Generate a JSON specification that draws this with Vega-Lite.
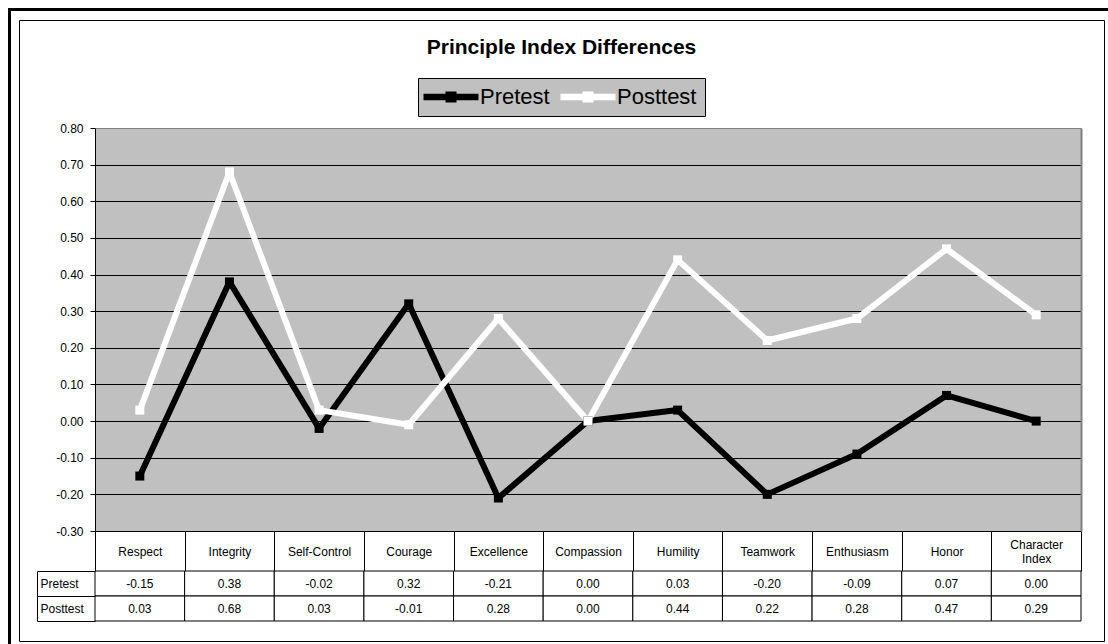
{
  "$schema": "https://vega.github.io/schema/vega-lite/v6.json",
  "width": 1085,
  "height": 621,
  "autosize": {"type": "none"},
  "padding": {"left": 19, "top": 20, "right": 4, "bottom": 3},
  "background": "white",
  "title": {"text": "Principle Index Differences", "font": "Liberation Sans", "fontSize": 21, "fontWeight": "bold", "color": "black", "anchor": "middle", "offset": -52},
  "config": {
    "font": "Liberation Sans",
    "view": {"stroke": "black", "strokeWidth": 1},
    "axis": {"labelFont": "Liberation Sans"},
    "locale": {"number": {"decimal": ".", "thousands": ",", "grouping": [3], "currency": ["$", ""], "minus": "-"}}
  },
  "data": {"values": [
    {"category": "Respect", "series": "Pretest", "value": -0.15},
    {"category": "Integrity", "series": "Pretest", "value": 0.38},
    {"category": "Self-Control", "series": "Pretest", "value": -0.02},
    {"category": "Courage", "series": "Pretest", "value": 0.32},
    {"category": "Excellence", "series": "Pretest", "value": -0.21},
    {"category": "Compassion", "series": "Pretest", "value": 0.00},
    {"category": "Humility", "series": "Pretest", "value": 0.03},
    {"category": "Teamwork", "series": "Pretest", "value": -0.20},
    {"category": "Enthusiasm", "series": "Pretest", "value": -0.09},
    {"category": "Honor", "series": "Pretest", "value": 0.07},
    {"category": "Character Index", "series": "Pretest", "value": 0.00},
    {"category": "Respect", "series": "Posttest", "value": 0.03},
    {"category": "Integrity", "series": "Posttest", "value": 0.68},
    {"category": "Self-Control", "series": "Posttest", "value": 0.03},
    {"category": "Courage", "series": "Posttest", "value": -0.01},
    {"category": "Excellence", "series": "Posttest", "value": 0.28},
    {"category": "Compassion", "series": "Posttest", "value": 0.00},
    {"category": "Humility", "series": "Posttest", "value": 0.44},
    {"category": "Teamwork", "series": "Posttest", "value": 0.22},
    {"category": "Enthusiasm", "series": "Posttest", "value": 0.28},
    {"category": "Honor", "series": "Posttest", "value": 0.47},
    {"category": "Character Index", "series": "Posttest", "value": 0.29}
  ]},
  "resolve": {"scale": {"x": "independent", "y": "independent"}, "axis": {"x": "independent", "y": "independent"}},
  "layer": [
    {
      "resolve": {"scale": {"y": "independent"}, "axis": {"y": "independent"}},
      "layer": [
        {
          "mark": {"type": "point", "opacity": 0},
          "encoding": {
            "x": {"field": "category", "type": "nominal", "scale": {"type": "band", "domain": ["Respect", "Integrity", "Self-Control", "Courage", "Excellence", "Compassion", "Humility", "Teamwork", "Enthusiasm", "Honor", "Character Index"], "range": [76, 1062], "paddingInner": 0, "paddingOuter": 0}},
            "y": {"field": "value", "type": "quantitative",
              "scale": {"domain": [-0.3, 0.8], "range": [511, 108], "nice": false, "zero": false},
              "axis": {"orient": "left", "offset": -76, "domain": false, "ticks": false, "labels": false, "grid": true, "values": [0.25], "gridColor": "#C0C0C0", "gridWidth": 403, "gridCap": "butt", "gridOpacity": 1, "title": null}}
          }
        },
        {
          "mark": {"type": "point", "opacity": 0},
          "encoding": {
            "x": {"field": "category", "type": "nominal", "scale": {"type": "band"}},
            "y": {"field": "value", "type": "quantitative",
              "scale": {"domain": [-0.3, 0.8], "range": [511, 108], "nice": false, "zero": false},
              "axis": {"orient": "right", "offset": -23, "domain": true, "domainColor": "#808080", "domainWidth": 2, "ticks": false, "labels": false, "grid": false, "title": null}}
          }
        },
        {
          "layer": [
            {
              "mark": {"type": "line", "strokeWidth": 6, "strokeJoin": "round"},
              "encoding": {
                "x": {"field": "category", "type": "nominal", "bandPosition": 0.5, "scale": {"type": "band"},
                  "axis": {"orient": "bottom", "offset": -110, "domainColor": "black", "domainWidth": 1, "ticks": true, "tickBand": "extent", "tickSize": 40, "tickColor": "black", "tickWidth": 1, "labels": true,
                    "labelPadding": {"condition": {"test": "datum.label == 'Character Index'", "value": -27}, "value": -20},
                    "labelBaseline": "middle", "labelAlign": "center", "labelAngle": 0, "labelFontSize": 12, "labelColor": "black", "labelLineHeight": 14, "labelOverlap": false, "labelExpr": "datum.label == 'Character Index' ? ['Character', 'Index'] : datum.label", "grid": false, "title": null}},
                "y": {"field": "value", "type": "quantitative",
                  "scale": {"domain": [-0.3, 0.8], "range": [511, 108], "nice": false, "zero": false},
                  "axis": {"orient": "left", "offset": -76, "values": [-0.3, -0.2, -0.1, 0, 0.1, 0.2, 0.3, 0.4, 0.5, 0.6, 0.7, 0.8], "format": ".2f", "domainColor": "black", "tickColor": "black", "tickSize": 5, "labelFontSize": 12, "labelColor": "black", "labelPadding": 7, "labelOverlap": false, "grid": true, "gridColor": {"condition": {"test": "datum.value > 0.75", "value": "#808080"}, "value": "#000000"}, "gridWidth": 1, "gridOpacity": 1, "title": null}},
                "color": {"field": "series", "type": "nominal",
                  "scale": {"domain": ["Pretest", "Posttest"], "range": ["#000000", "#FFFFFF"]},
                  "legend": {"orient": "none", "legendX": 399, "legendY": 58, "direction": "horizontal", "title": null, "fillColor": "#C0C0C0", "strokeColor": "#000000", "padding": 8, "labelFontSize": 22, "labelColor": "black", "labelFont": "Liberation Sans", "symbolType": "M-5,-0.6L5,-0.6L5,0.6L-5,0.6Z M-1,-1L1,-1L1,1L-1,1Z", "symbolSize": 121, "symbolOffset": 14, "labelOffset": 18, "columnPadding": 10, "symbolStrokeWidth": 0,
                    "encode": {"symbols": {"update": {"fill": {"scale": "color", "field": "value"}, "stroke": {"value": "transparent"}}}}}},
                "order": {"value": null}
              }
            },
            {
              "mark": {"type": "point", "shape": "square", "filled": true, "size": 81, "opacity": 1},
              "encoding": {
                "x": {"field": "category", "type": "nominal", "bandPosition": 0.5, "scale": {"type": "band"}},
                "y": {"field": "value", "type": "quantitative"},
                "color": {"field": "series", "type": "nominal"}
              }
            }
          ]
        },
        {
          "mark": {"type": "rect", "fill": "white", "stroke": "black", "strokeWidth": 1},
          "encoding": {
            "x": {"field": "category", "type": "nominal", "scale": {"type": "band"}},
            "y": {"field": "series", "type": "nominal",
              "scale": {"type": "band", "domain": ["Pretest", "Posttest"], "range": [551, 601], "paddingInner": 0, "paddingOuter": 0},
              "axis": {"orient": "left", "offset": -76, "domain": false, "ticks": true, "tickBand": "extent", "tickSize": 58, "tickColor": "black", "tickWidth": 1, "labels": true, "labelAlign": "left", "labelBaseline": "middle", "labelPadding": -3, "labelFontSize": 12, "labelColor": "black", "grid": false, "title": null}}
          }
        },
        {
          "mark": {"type": "text", "fontSize": 12, "color": "black", "align": "center", "baseline": "middle"},
          "encoding": {
            "x": {"field": "category", "type": "nominal", "bandPosition": 0.5, "scale": {"type": "band"}},
            "y": {"field": "series", "type": "nominal", "bandPosition": 0.5,
              "scale": {"type": "band", "domain": ["Pretest", "Posttest"], "range": [551, 601], "paddingInner": 0, "paddingOuter": 0},
              "axis": {"orient": "left", "offset": -18, "domainColor": "black", "domainWidth": 1, "ticks": false, "labels": false, "grid": false, "title": null}},
            "text": {"field": "value", "type": "quantitative", "format": ".2f"}
          }
        }
      ]
    },
    {
      "mark": {"type": "point", "opacity": 0},
      "encoding": {
        "x": {"field": "category", "type": "nominal", "scale": {"type": "band", "range": [-10, 1088]},
          "axis": {"orient": "top", "offset": 11, "domainColor": "black", "domainWidth": 3, "domainCap": "square", "ticks": false, "labels": false, "grid": false, "title": null}},
        "y": {"field": "value", "type": "quantitative", "scale": {"range": [624, -11], "nice": false, "zero": false},
          "axis": {"orient": "left", "offset": 10, "domainColor": "black", "domainWidth": 3, "domainCap": "square", "ticks": false, "labels": false, "grid": false, "title": null}}
      }
    }
  ]
}
